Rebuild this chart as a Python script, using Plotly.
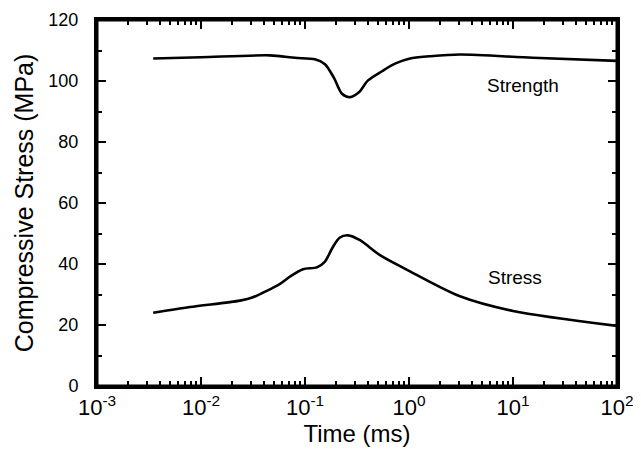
import plotly.graph_objects as go

# Strength curve (time in ms, stress in MPa)
strength_time = [0.00347, 0.01, 0.046, 0.0802, 0.1247, 0.1556, 0.19, 0.227,
                 0.271, 0.33, 0.404, 0.55, 0.733, 1.023, 1.58, 3.09, 15.5, 100]
strength_val = [107.4, 107.8, 108.4, 107.6, 107.1, 105.5, 101.0, 95.8,
                94.7, 96.3, 100.2, 103.2, 105.7, 107.4, 108.1, 108.7, 107.6, 106.6]

# Stress curve
stress_time = [0.00347, 0.00783, 0.0237, 0.0316, 0.0575, 0.0718, 0.0957, 0.130,
               0.1556, 0.182, 0.215, 0.259, 0.338, 0.526, 0.957, 3.09, 10, 100]
stress_val = [24.0, 25.9, 28.0, 29.1, 33.5, 35.9, 38.3, 38.9,
              40.8, 45.1, 48.6, 49.4, 47.8, 42.9, 38.1, 29.4, 24.6, 19.7]

x_tickvals = [0.001, 0.01, 0.1, 1, 10, 100]
x_ticktext = ["10<sup>-3</sup>", "10<sup>-2</sup>", "10<sup>-1</sup>",
              "10<sup>0</sup>", "10<sup>1</sup>", "10<sup>2</sup>"]
y_tickvals = [0, 20, 40, 60, 80, 100, 120]
y_minor = [10, 30, 50, 70, 90, 110]
x_minor = [m * d for d in [0.001, 0.01, 0.1, 1, 10] for m in range(2, 10)]

FONT = "Liberation Sans"
line_style = dict(color="black", width=2.6, shape="spline", smoothing=0.8)

fig = go.Figure()
fig.add_trace(go.Scatter(x=strength_time, y=strength_val, mode="lines",
                         line=line_style, showlegend=False, hoverinfo="skip"))
fig.add_trace(go.Scatter(x=stress_time, y=stress_val, mode="lines",
                         line=line_style, showlegend=False, hoverinfo="skip"))

fig.add_annotation(x=1.096, y=98.4, xref="x", yref="y", text="Strength",
                   showarrow=False, font=dict(family=FONT, size=19, color="black"))
fig.add_annotation(x=1.02, y=35.6, xref="x", yref="y", text="Stress",
                   showarrow=False, font=dict(family=FONT, size=19, color="black"))

# plot frame
fig.add_shape(type="rect", xref="paper", yref="paper", x0=0, y0=0, x1=1, y1=1,
              line=dict(color="black", width=3), layer="above")

tick_common = dict(ticks="inside", ticklen=9, tickwidth=1.5, tickcolor="black",
                   showline=True, linewidth=3, linecolor="black", mirror="allticks",
                   showgrid=False, zeroline=False, automargin=False,
                   ticklabeloverflow="allow")
minor_x = dict(ticks="inside", ticklen=5, tickwidth=1.5, tickcolor="black",
               tickmode="array", tickvals=x_minor, showgrid=False)
minor_y = dict(ticks="inside", ticklen=5, tickwidth=1.5, tickcolor="black",
               tickmode="array", tickvals=y_minor, showgrid=False)

# the page body adds an 8px offset, so margins are chosen to compensate
fig.update_layout(
    width=641, height=457, margin=dict(l=89, r=32, t=12, b=79),
    plot_bgcolor="white", paper_bgcolor="white",
    xaxis=dict(type="log", range=[-3, 2], tickmode="array",
               tickvals=x_tickvals, ticktext=x_ticktext, minor=minor_x,
               tickfont=dict(family=FONT, size=22, color="black"),
               title=dict(text="Time (ms)", standoff=0,
                          font=dict(family=FONT, size=24, color="black")),
               **tick_common),
    yaxis=dict(range=[0, 120], tickmode="array", tickvals=y_tickvals, minor=minor_y,
               ticklabelstandoff=12,
               tickfont=dict(family=FONT, size=18, color="black"),
               title=dict(text="Compressive Stress (MPa)", standoff=8,
                          font=dict(family=FONT, size=25, color="black")),
               **tick_common),
)

fig.write_html("out.html")
